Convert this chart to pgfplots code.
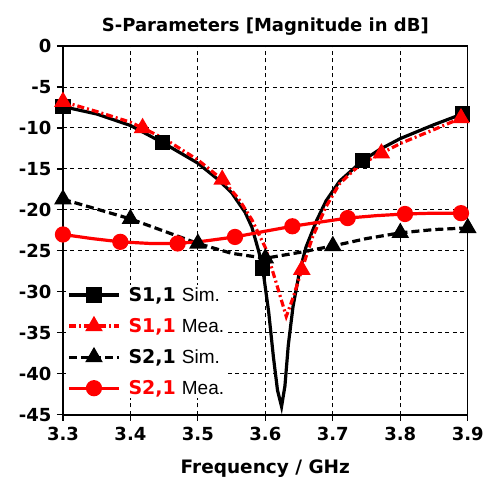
\documentclass[border=0pt]{standalone}
\usepackage{pgfplots}
\pgfplotsset{compat=1.18}
\usepackage{fontspec}
\setmainfont{DejaVu Sans}
\newfontfamily\arial{Liberation Sans}

\begin{document}
\begin{tikzpicture}
\begin{axis}[
    name=ax,
    scale only axis,
    width=405bp, height=369bp,
    xmin=3.3, xmax=3.9,
    ymin=-45, ymax=0,
    xtick={3.3,3.4,3.5,3.6,3.7,3.8,3.9},
    ytick={-45,-40,-35,-30,-25,-20,-15,-10,-5,0},
    xticklabel style={/pgf/number format/fixed, /pgf/number format/fixed zerofill, /pgf/number format/precision=1, yshift=-3bp},
    yticklabel style={xshift=-2bp},
    /pgf/number format/assume math mode=true,
    ticklabel style={font=\fontsize{18bp}{21bp}\selectfont\bfseries},
    tick align=outside,
    major tick length=6bp,
    xtick pos=left, ytick pos=left,
    tick style={black, line width=1.2bp},
    axis line style={black, line width=1.5bp},
    grid=major,
    major grid style={black, line width=0.9bp, dash pattern=on 4bp off 3.5bp},
    title={S-Parameters [Magnitude in dB]},
    title style={font=\fontsize{18bp}{21bp}\selectfont\bfseries, yshift=1bp},
    xlabel={Frequency / GHz},
    xlabel style={font=\fontsize{18.5bp}{21bp}\selectfont\bfseries, yshift=-12bp},
    clip=false,
    legend style={at={(rel axis cs:0.008,0.352)}, anchor=north west, draw=none, fill=white,
        font=\fontsize{19bp}{22bp}\selectfont, row sep=13.5bp, inner sep=1bp,
        nodes={inner xsep=3bp, inner ysep=1bp}},
    legend cell align=left,
    legend image code/.code={
        \draw[#1, mark=none] (0bp,0bp) -- (50bp,0bp);
        \draw[#1, only marks] plot coordinates {(25bp,0bp)};
        \path (55bp,0bp);
    },
]

% S1,1 simulated
\addplot[black, line width=3.2bp, mark=square*, mark size=6bp, mark options={solid},
    mark indices={1,4,11,24,28}]
coordinates {
(3.30,-7.4) (3.35,-8.3) (3.40,-9.7) (3.448,-11.8) (3.50,-14.3) (3.53,-16.3)
(3.55,-17.9) (3.57,-20.3) (3.58,-22.1) (3.59,-25.0) (3.596,-27.1) (3.605,-32.5)
(3.612,-38.0) (3.618,-42.0) (3.624,-44.0) (3.629,-41.5) (3.634,-36.5) (3.641,-31.8)
(3.65,-27.8) (3.66,-24.6) (3.676,-21.3) (3.69,-18.9) (3.71,-16.5) (3.744,-14.0)
(3.77,-12.6) (3.80,-11.3) (3.85,-9.6) (3.892,-8.3) (3.90,-8.1)
};
\addlegendentry{\textbf{S1,1} {\arial Sim.}}

% S1,1 measured
\addplot[red, line width=3.2bp, dash pattern=on 7bp off 3bp on 2bp off 3bp,
    mark=triangle*, mark size=7bp, mark options={solid}, mark indices={1,4,7,14,19,22}]
coordinates {
(3.30,-6.8) (3.35,-8.0) (3.40,-9.3) (3.418,-10.0) (3.45,-11.3) (3.50,-13.9)
(3.536,-16.3) (3.56,-18.6) (3.58,-21.2) (3.60,-24.6) (3.615,-28.6) (3.631,-33.0)
(3.642,-30.5) (3.654,-27.3) (3.67,-23.3) (3.69,-19.6) (3.71,-16.8) (3.74,-14.5)
(3.772,-13.1) (3.80,-11.9) (3.85,-10.2) (3.89,-8.8) (3.90,-8.5)
};
\addlegendentry{\textcolor{red}{\textbf{S1,1}} {\arial Mea.}}

% S2,1 simulated
\addplot[black, line width=3.2bp, dash pattern=on 8bp off 4bp,
    mark=triangle*, mark size=7bp, mark options={solid}, mark indices={1,3,5,7,9,11,13}]
coordinates {
(3.30,-18.7) (3.35,-19.9) (3.40,-21.1) (3.45,-22.6) (3.50,-24.1) (3.55,-25.3)
(3.60,-25.9) (3.65,-25.2) (3.70,-24.4) (3.75,-23.5) (3.80,-22.8) (3.85,-22.4)
(3.90,-22.2)
};
\addlegendentry{\textbf{S2,1} {\arial Sim.}}

% S2,1 measured
\addplot[red, line width=3.2bp, mark=*, mark size=6.5bp, mark options={solid},
    mark indices={1,3,5,7,9,11,13,15}]
coordinates {
(3.30,-23.0) (3.343,-23.5) (3.385,-23.9) (3.43,-24.1) (3.47,-24.1) (3.51,-23.8)
(3.555,-23.3) (3.60,-22.6) (3.64,-22.0) (3.68,-21.5) (3.722,-21.0) (3.765,-20.7)
(3.807,-20.5) (3.85,-20.4) (3.89,-20.4) (3.90,-20.4)
};
\addlegendentry{\textcolor{red}{\textbf{S2,1}} {\arial Mea.}}

\end{axis}
\path ([xshift=-63bp,yshift=-70bp]ax.south west) rectangle ([xshift=19bp,yshift=46bp]ax.north east);
\end{tikzpicture}
\end{document}
